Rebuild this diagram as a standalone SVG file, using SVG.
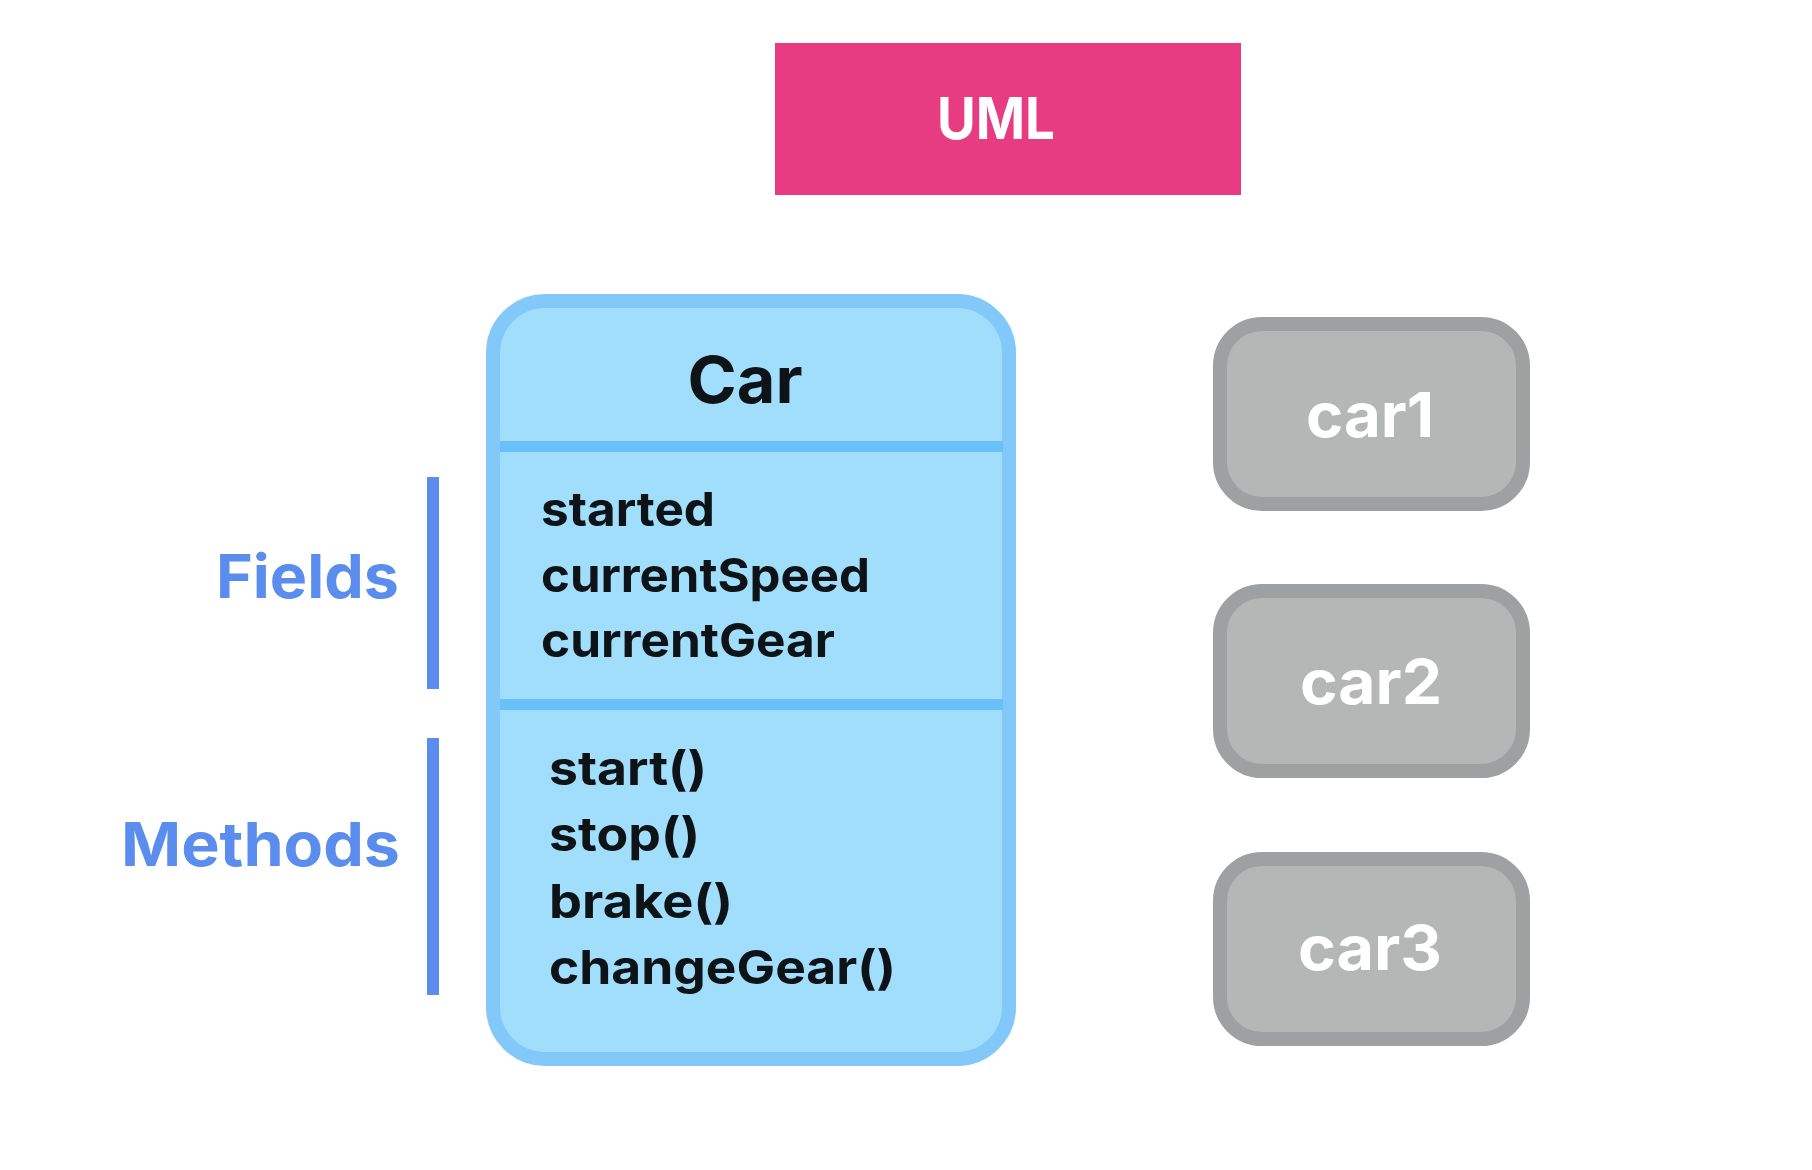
<svg xmlns="http://www.w3.org/2000/svg" width="1812" height="1170" viewBox="0 0 1812 1170">
<style>
  .title { font-family: Inter, "Open Sans", "Liberation Sans", sans-serif; font-weight: 700; }
  .member { font-family: Inter, "Open Sans", "Liberation Sans", sans-serif; font-weight: 700; font-size: 47px; fill: #0E1317; }
  .label { font-family: Inter, "Open Sans", "Liberation Sans", sans-serif; font-weight: 700; font-size: 61px; fill: #5A8DEE; }
  .inst { fill: #B5B6B6; stroke: #9FA0A1; stroke-width: 14; }
  .instText { font-family: Inter, "Open Sans", "Liberation Sans", sans-serif; font-weight: 700; font-size: 62px; fill: #FFFFFF; }
  .bar { fill: #5A8DEE; }
</style>
<rect width="1812" height="1170" fill="#FFFFFF"/>

<g id="uml">
  <rect x="775" y="43" width="466" height="152" fill="#E73C82"/>
  <text class="title" x="996" y="139" font-size="58" fill="#FFFFFF" text-anchor="middle" textLength="118" lengthAdjust="spacingAndGlyphs">UML</text>
</g>

<g id="car-class">
  <rect x="493" y="301" width="516" height="758" rx="52" ry="52" fill="#A0DEFB" stroke="#82C8F9" stroke-width="14"/>
  <rect x="500" y="441" width="503" height="11" fill="#6AC1FA"/>
  <rect x="500" y="699" width="503" height="11" fill="#6AC1FA"/>
  <text class="title" x="745" y="403" font-size="65" fill="#0E1317" text-anchor="middle" textLength="115" lengthAdjust="spacingAndGlyphs">Car</text>
  <text class="member" x="541" y="526" textLength="174" lengthAdjust="spacingAndGlyphs">started</text>
  <text class="member" x="541" y="592" textLength="329" lengthAdjust="spacingAndGlyphs">currentSpeed</text>
  <text class="member" x="541" y="657" textLength="294" lengthAdjust="spacingAndGlyphs">currentGear</text>
  <text class="member" x="549" y="785" textLength="158" lengthAdjust="spacingAndGlyphs">start()</text>
  <text class="member" x="549" y="851" textLength="151" lengthAdjust="spacingAndGlyphs">stop()</text>
  <text class="member" x="549" y="918" textLength="184" lengthAdjust="spacingAndGlyphs">brake()</text>
  <text class="member" x="549" y="984" textLength="347" lengthAdjust="spacingAndGlyphs">changeGear()</text>
</g>

<g id="fields-label">
  <rect class="bar" x="427" y="477" width="12" height="212"/>
  <text class="label" x="399" y="598" text-anchor="end" textLength="183" lengthAdjust="spacingAndGlyphs">Fields</text>
</g>

<g id="methods-label">
  <rect class="bar" x="427" y="738" width="12" height="257"/>
  <text class="label" x="400" y="866" text-anchor="end" textLength="279" lengthAdjust="spacingAndGlyphs">Methods</text>
</g>

<g id="car1">
  <rect class="inst" x="1220" y="324" width="303" height="180" rx="42" ry="42"/>
  <text class="instText" x="1370" y="437" text-anchor="middle" textLength="128" lengthAdjust="spacingAndGlyphs">car1</text>
</g>

<g id="car2">
  <rect class="inst" x="1220" y="591" width="303" height="180" rx="42" ry="42"/>
  <text class="instText" x="1371" y="704" text-anchor="middle" textLength="142" lengthAdjust="spacingAndGlyphs">car2</text>
</g>

<g id="car3">
  <rect class="inst" x="1220" y="859" width="303" height="180" rx="42" ry="42"/>
  <text class="instText" x="1370" y="970" text-anchor="middle" textLength="144" lengthAdjust="spacingAndGlyphs">car3</text>
</g>

<g id="connectors"></g>
</svg>
